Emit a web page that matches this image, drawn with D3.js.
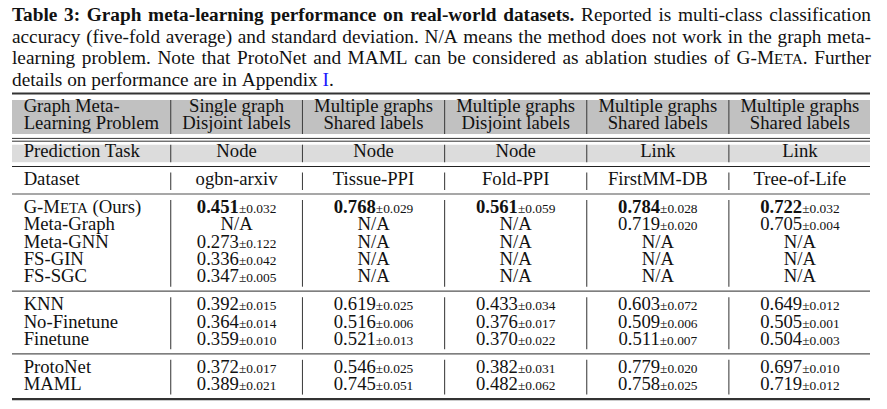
<!DOCTYPE html>
<html>
<head>
<meta charset="utf-8">
<script src="https://cdn.jsdelivr.net/npm/d3@7"></script>
<style>
  body { margin: 0; background: #fff; }
  svg { display: block; }
  text { font-family: "Liberation Serif", "Times New Roman", serif; fill: #111; }
</style>
</head>
<body>
<div id="chart"></div>
<script>
// ---- data ----
const captionTitle = "Table 3: Graph meta-learning performance on real-world datasets.";
const captionLines = [
  "Reported is multi-class classification",
  "accuracy (five-fold average) and standard deviation. N/A means the method does not work in the graph meta-",
  "learning problem. Note that ProtoNet and MAML can be considered as ablation studies of G-Meta. Further",
  "details on performance are in Appendix I."
];
const problems = [
  ["Graph Meta-", "Learning Problem"],
  ["Single graph", "Disjoint labels"],
  ["Multiple graphs", "Shared labels"],
  ["Multiple graphs", "Disjoint labels"],
  ["Multiple graphs", "Shared labels"],
  ["Multiple graphs", "Shared labels"]
];
const tasks = ["Prediction Task", "Node", "Node", "Node", "Link", "Link"];
const datasets = ["Dataset", "ogbn-arxiv", "Tissue-PPI", "Fold-PPI", "FirstMM-DB", "Tree-of-Life"];
const methods = ["G-Meta (Ours)", "Meta-Graph", "Meta-GNN", "FS-GIN", "FS-SGC",
                 "KNN", "No-Finetune", "Finetune",
                 "ProtoNet", "MAML"];
const methodGroups = [5, 3, 2];
// null = N/A
const means = [
  [0.451, 0.768, 0.561, 0.784, 0.722],
  [null,  null,  null,  0.719, 0.705],
  [0.273, null,  null,  null,  null],
  [0.336, null,  null,  null,  null],
  [0.347, null,  null,  null,  null],
  [0.392, 0.619, 0.433, 0.603, 0.649],
  [0.364, 0.516, 0.376, 0.509, 0.505],
  [0.359, 0.521, 0.370, 0.511, 0.504],
  [0.372, 0.546, 0.382, 0.779, 0.697],
  [0.389, 0.745, 0.482, 0.758, 0.719]
];
const stds = [
  [0.032, 0.029, 0.059, 0.028, 0.032],
  [null,  null,  null,  0.020, 0.004],
  [0.122, null,  null,  null,  null],
  [0.042, null,  null,  null,  null],
  [0.005, null,  null,  null,  null],
  [0.015, 0.025, 0.034, 0.072, 0.012],
  [0.014, 0.006, 0.017, 0.006, 0.001],
  [0.010, 0.013, 0.022, 0.007, 0.003],
  [0.017, 0.025, 0.031, 0.020, 0.010],
  [0.021, 0.051, 0.062, 0.025, 0.012]
];

// ---- setup ----
const W = 887, H = 409;
const left = 12, right = 871;
const fsCap = 19.3, fs = 18.7, fsSmall = 13.4;

const svg = d3.select('#chart').append('svg').attr('width', W).attr('height', H);

// turn a string into styled pieces (small caps for G-Meta, blue link for "I")
function pieces(str, base) {
  base = base || {};
  const out = [];
  const parts = str.split('G-Meta');
  parts.forEach((p, i) => {
    if (i > 0) {
      out.push(Object.assign({}, base, {t: 'G-M'}));
      out.push(Object.assign({}, base, {t: 'ETA', scale: 0.8}));
    }
    if (p === 'I.') {
      out.push(Object.assign({}, base, {t: 'I', fill: '#1a1aff'}));
      out.push(Object.assign({}, base, {t: '.'}));
    } else if (p.length) out.push(Object.assign({}, base, {t: p}));
  });
  return out;
}

function addPieces(sel, segs, size) {
  segs.forEach(s => {
    sel.append('tspan')
      .text(s.t)
      .attr('font-size', (s.size || size) * (s.scale || 1))
      .attr('font-weight', s.bold ? 'bold' : null)
      .style('fill', s.fill || null);
  });
  return sel;
}

const measurer = svg.append('g').attr('opacity', 0);
function measure(segs, size) {
  const t = measurer.append('text');
  addPieces(t, segs, size);
  const w = t.node().getComputedTextLength();
  t.remove();
  return w;
}

// ---- caption (justified) ----
const capLines = captionLines.map((line, i) => {
  let words = line.split(' ').map(w => pieces(w));
  if (i === 0) words = captionTitle.split(' ').map(w => pieces(w, {bold: true})).concat(words);
  return words;
});
const capG = svg.append('g');
capLines.forEach((words, i) => {
  const widths = words.map(w => measure(w, fsCap));
  const total = d3.sum(widths);
  const last = i === capLines.length - 1;
  const gap = last ? fsCap * 0.25 : (right - left - total) / (words.length - 1);
  let x = left;
  words.forEach((w, j) => {
    addPieces(capG.append('text').attr('x', x).attr('y', 20.7 + i * 21.8), w, fsCap);
    x += widths[j] + gap;
  });
});

// ---- table cells ----
const best = d3.range(5).map(c => d3.maxIndex(means, r => r[c] == null ? -1 : r[c]));
function bodyCell(r, c) {
  if (means[r][c] == null) return [{t: 'N/A'}];
  return [{t: means[r][c].toFixed(3), bold: best[c] === r},
          {t: '\u00b1' + stds[r][c].toFixed(3), size: fsSmall}];
}
const cols = d3.range(6).map(c => {
  const cells = [[{t: problems[c][0]}], [{t: problems[c][1]}], [{t: tasks[c]}], [{t: datasets[c]}]];
  methods.forEach((m, r) => cells.push(c === 0 ? pieces(m) : bodyCell(r, c - 1)));
  return d3.max(cells, s => measure(s, fs));
});
const pad = (right - left - d3.sum(cols)) / (2 * cols.length);
const edges = [left].concat(Array.from(d3.cumsum(cols, w => w + 2 * pad), v => left + v));
const colX = c => c === 0 ? edges[0] + pad : (edges[c] + edges[c + 1]) / 2;

// vertical layout
const topRule = 93.5;
const h1 = [100, 134], h2 = [144.7, 162.2], h3 = [172.5, 190];
const dblRule = [138.4, 141.2], rule3 = 166.5;
const step = 17.3;
const groupRules = [194];
const baselines = [];
methodGroups.forEach((n, g) => {
  const start = groupRules[g] + 19;
  d3.range(n).forEach(i => baselines.push(start + i * step));
  groupRules.push(start + (n - 1) * step + 9);
});

const tbl = svg.append('g');
// header backgrounds
tbl.append('rect').attr('x', left).attr('width', right - left - 1)
  .attr('y', h1[0]).attr('height', h1[1] - h1[0]).attr('fill', '#c1c1c1');
tbl.append('rect').attr('x', left).attr('width', right - left - 1)
  .attr('y', h2[0]).attr('height', h2[1] - h2[0]).attr('fill', '#dcdcdc');

function hline(y, w, color) {
  tbl.append('line').attr('x1', left).attr('x2', right - 1)
    .attr('y1', y).attr('y2', y).attr('stroke', color).attr('stroke-width', w);
}
hline(topRule, 2.2, '#333');
hline(dblRule[0], 1, '#333');
hline(dblRule[1], 1, '#333');
hline(rule3, 1.2, '#222');
groupRules.forEach((y, i) => {
  if (i === 0) hline(y, 1.6, '#8a8a8a');
  else if (i === groupRules.length - 1) hline(y, 2.2, '#333');
  else hline(y, 1.2, '#555');
});

// vertical separators
const vSpans = [h1, h2, h3].concat(methodGroups.map((n, g) => [groupRules[g] + 6, groupRules[g + 1] - 4.5]));
edges.slice(1, -1).forEach(x => {
  vSpans.forEach(s => {
    tbl.append('line').attr('x1', x).attr('x2', x).attr('y1', s[0]).attr('y2', s[1])
      .attr('stroke', '#444').attr('stroke-width', 1.1);
  });
});

function cellText(c, y, segs) {
  const t = tbl.append('text').attr('x', colX(c)).attr('y', y)
    .attr('text-anchor', c === 0 ? 'start' : 'middle');
  addPieces(t, segs, fs);
}
d3.range(6).forEach(c => {
  cellText(c, 112.3, [{t: problems[c][0]}]);
  cellText(c, 129.4, [{t: problems[c][1]}]);
  cellText(c, 157.3, [{t: tasks[c]}]);
  cellText(c, 185.3, [{t: datasets[c]}]);
});
methods.forEach((m, r) => {
  cellText(0, baselines[r], pieces(m));
  d3.range(5).forEach(c => cellText(c + 1, baselines[r], bodyCell(r, c)));
});
</script>
</body>
</html>
